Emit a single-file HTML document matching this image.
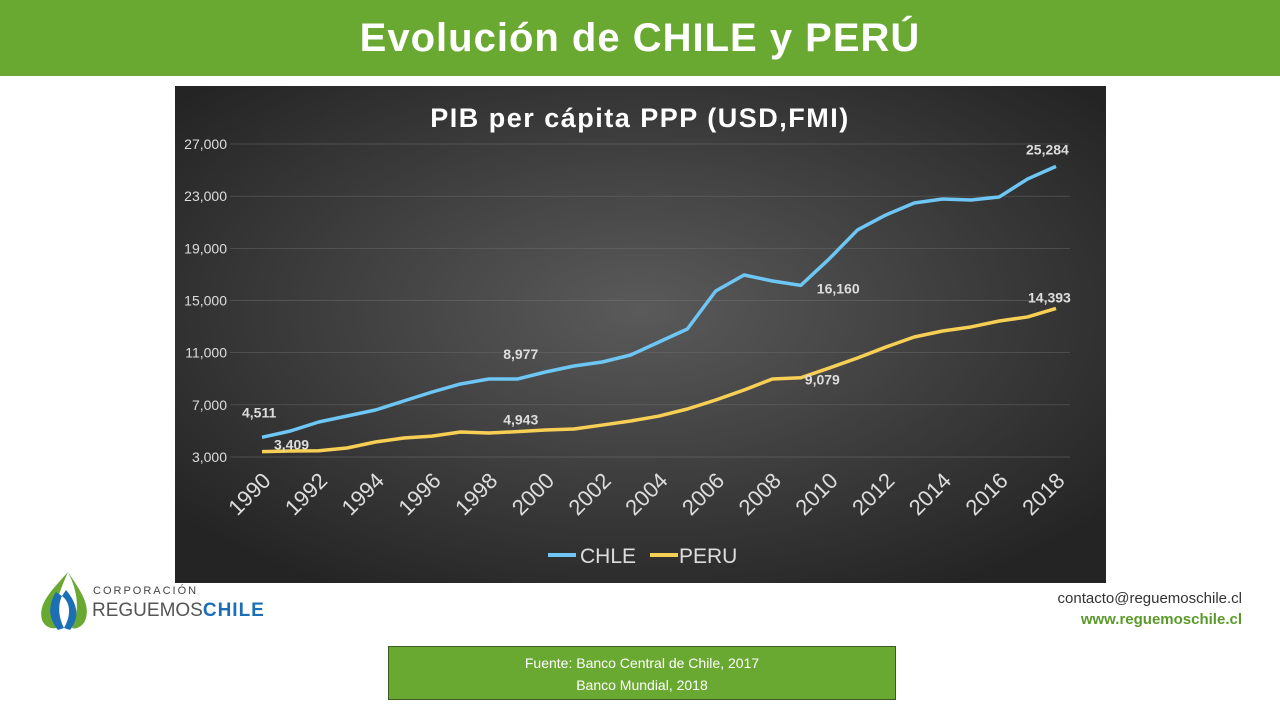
<!DOCTYPE html>
<html><head><meta charset="utf-8"><style>
body{margin:0;width:1280px;height:720px;background:#fff;position:relative;overflow:hidden;font-family:"Liberation Sans",sans-serif}
#bar{position:absolute;left:0;top:0;width:1280px;height:76px;background:#6aa931;color:#fff;font-size:40px;font-weight:bold;text-align:center;line-height:76px;letter-spacing:1px}
#src{position:absolute;left:388px;top:646px;width:508px;height:54px;background:#6aa931;border:1px solid #3d5a22;color:#fff;font-size:14px;text-align:center;line-height:22px;padding-top:5px;box-sizing:border-box}
#contact{position:absolute;right:38px;top:588px;text-align:right;font-size:15px;color:#333;line-height:21px}
</style></head><body>
<div id="bar">Evolución de CHILE y PERÚ</div>
<svg id="chart" style="position:absolute;left:0;top:0" width="1280" height="720">
<defs><radialGradient id="bg" cx="50%" cy="45%" r="65%"><stop offset="0" stop-color="#5a5a5a"/><stop offset="1" stop-color="#242424"/></radialGradient></defs>
<rect x="175" y="86" width="931" height="497" fill="url(#bg)"/>
<text x="640" y="127" fill="#fff" font-size="27" font-weight="bold" text-anchor="middle" letter-spacing="1.5">PIB per cápita PPP (USD,FMI)</text>
<g id="grid"></g><g id="ylab"></g><g id="xlab"></g><g id="lines"></g><g id="labels"></g>
<g>
<line x1="548" y1="555" x2="576" y2="555" stroke="#6ec6f5" stroke-width="4"/>
<text x="580" y="563" fill="#ddd" font-size="21">CHLE</text>
<line x1="650" y1="555" x2="678" y2="555" stroke="#f7cf55" stroke-width="4"/>
<text x="679" y="563" fill="#ddd" font-size="21">PERU</text></g>
<g>
<path d="M68 572 C50 592 38 604 42 620 C46 630 58 630 60 625 C52 610 58 595 68 572Z" fill="#6aa931"/>
<path d="M68 572 C80 590 90 604 86 618 C84 626 76 630 72 628 C80 610 78 592 68 572Z" fill="#6aa931"/>
<path d="M56 592 C48 605 48 618 58 630 L64 628 C58 616 58 604 62 596Z" fill="#1c6fb5"/>
<path d="M66 590 C78 604 80 618 70 630 L64 628 C72 614 70 602 62 596Z" fill="#1c6fb5"/>
<text x="93" y="594" font-size="11" fill="#444" letter-spacing="2">CORPORACIÓN</text>
<text x="92" y="616" font-size="19" fill="#555">REGUEMOS<tspan fill="#1c6fb5" font-weight="bold" letter-spacing="1">CHILE</tspan></text></g>
</svg>
<div id="contact">contacto@reguemoschile.cl<br><b style="color:#5a9a2a">www.reguemoschile.cl</b></div>
<div id="src">Fuente: Banco Central de Chile, 2017<br>Banco Mundial, 2018</div>
<script>
const years=[1990,1991,1992,1993,1994,1995,1996,1997,1998,1999,2000,2001,2002,2003,2004,2005,2006,2007,2008,2009,2010,2011,2012,2013,2014,2015,2016,2017,2018];
const chile=[4511,4994,5684,6144,6604,7294,7984,8598,8981,8977,9517,9977,10284,10821,11818,12815,15728,16955,16495,16160,18185,20409,21559,22479,22786,22709,22940,24320,25284];
const peru=[3409,3460,3480,3690,4150,4460,4600,4917,4840,4943,5070,5150,5450,5760,6140,6680,7370,8140,8980,9079,9820,10590,11430,12200,12660,12970,13430,13740,14393];
const yTicks=[3000,7000,11000,15000,19000,23000,27000];
const xTicks=[1990,1992,1994,1996,1998,2000,2002,2004,2006,2008,2010,2012,2014,2016,2018];
const X=y=>262+(y-1990)*(1056-262)/28;
const Y=v=>457-(v-3000)*(457-144)/24000;
const NS="http://www.w3.org/2000/svg";
function mk(t,a,p){const e=document.createElementNS(NS,t);for(const k in a)e.setAttribute(k,a[k]);document.getElementById(p).appendChild(e);return e;}
yTicks.forEach(v=>{
 const l=mk('line',{x1:230,x2:1070,y1:Y(v),y2:Y(v),stroke:'#777','stroke-width':0.7,'stroke-opacity':0.6},'grid');
 
 
 const t=mk('text',{x:227,y:Y(v)+5,fill:'#ddd','font-size':14,'text-anchor':'end'},'ylab');
 
 
 t.textContent=v.toLocaleString('en-US');
});
xTicks.forEach(y=>{
 const t=mk('text',{x:X(y)+10,y:482,fill:'#ddd','font-size':22,'text-anchor':'end',transform:`rotate(-45 ${X(y)+10} 482)`},'xlab');
 
 
 t.textContent=y;
});
function line(d,c,n){const p=mk('polyline',{points:d.map((v,i)=>X(years[i])+','+Y(v)).join(' '),fill:'none',stroke:c,'stroke-width':3.5,'stroke-linejoin':'round'},'lines');
 
 }
line(chile,'#6ec6f5','chile-line');line(peru,'#f7cf55','peru-line');
const lbl=[[chile,0,-20,-20,'start'],[peru,0,12,-2,'start'],[chile,9,-14,-20,'start'],[peru,9,-14,-7,'start'],[chile,19,16,8,'start'],[peru,19,4,7,'start'],[chile,28,-30,-12,'start'],[peru,28,-28,-6,'start']];
lbl.forEach(([s,i,dx,dy,a])=>{
 const t=mk('text',{x:X(years[i])+dx,y:Y(s[i])+dy,fill:'#ddd','font-size':14,'font-weight':'bold','text-anchor':a},'labels');
 
 
 t.textContent=s[i].toLocaleString('en-US');
});
</script>
</body></html>
